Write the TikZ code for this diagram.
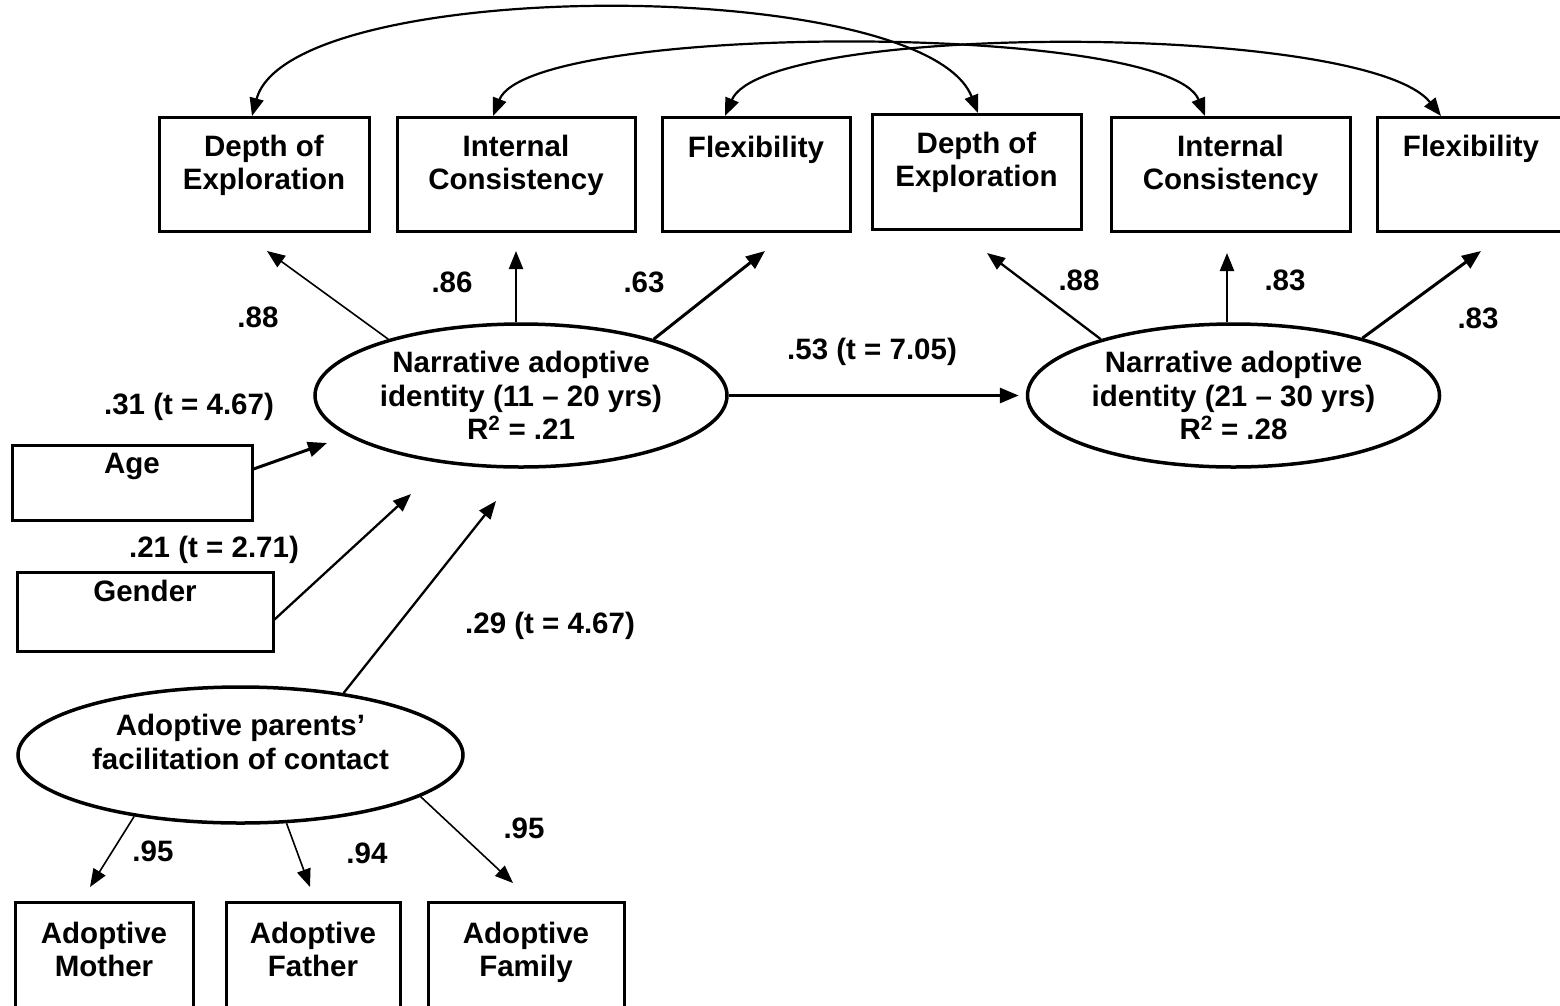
\documentclass[tikz,border=0pt]{standalone}
\usepackage{fontspec}
\setmainfont{Liberation Sans}
\usetikzlibrary{arrows.meta,shapes.geometric}

\tikzset{
  obsbox/.style={draw, line width=3pt, inner sep=0pt, align=center, anchor=north},
  latent/.style={draw, ellipse, line width=3.5pt, inner sep=0pt, align=center, minimum width=412pt, minimum height=143pt},
  coef/.style={inner sep=0pt},
  thinarr/.style={line width=1.6pt, -{Triangle[length=18pt,width=14pt]}},
  midarr/.style={line width=2.3pt, -{Triangle[length=18pt,width=14pt]}},
  thickarr/.style={line width=3pt, -{Triangle[length=19pt,width=15pt]}},
  covarr/.style={line width=2.2pt, {Triangle[length=18pt,width=14pt]}-{Triangle[length=18pt,width=14pt]}}
}

\begin{document}
\begin{tikzpicture}[x=1pt, y=-1pt, font=\fontsize{29.5}{33.5}\selectfont\bfseries]
			\useasboundingbox (0,0) rectangle (1560,1005);
			
			%%%%% indicators, top row %%%%%
			\node[obsbox, minimum width=210pt, text height=72pt, text depth=42pt] (D1) at (264,116) {Depth of\\Exploration};
			\node[obsbox, minimum width=238pt, text height=72pt, text depth=42pt] (I1) at (516,116) {Internal\\Consistency};
			\node[obsbox, minimum width=188pt, text height=40pt, text depth=74pt] (F1) at (756,116) {Flexibility};
			\node[obsbox, minimum width=209pt, text height=72pt, text depth=43pt] (D2) at (976.5,113) {Depth of\\Exploration};
			\node[obsbox, minimum width=239pt, text height=72pt, text depth=42pt] (I2) at (1230.5,116) {Internal\\Consistency};
			\node[obsbox, minimum width=188pt, text height=39pt, text depth=75pt] (F2) at (1471,116) {Flexibility};
			
			%%%%% latent variables %%%%%
			\node[latent] (N1) at (521,395.5) {Narrative adoptive\\identity (11 – 20 yrs)\\R\textsuperscript{2} = .21};
			\node[latent] (N2) at (1233.5,395.5) {Narrative adoptive\\identity (21 – 30 yrs)\\R\textsuperscript{2} = .28};
			\node[latent, minimum width=445pt, minimum height=136pt, text depth=26pt] (AP) at (240.5,755) {Adoptive parents’\\facilitation of contact};
			
			%%%%% predictors %%%%%
			\node[obsbox, minimum width=240pt, text height=28pt, text depth=47pt] (Age) at (132,444) {Age};
			\node[obsbox, minimum width=256pt, text height=29pt, text depth=50pt] (Gen) at (145,571) {Gender};
			
			%%%%% indicators, bottom row %%%%%
			\node[obsbox, minimum width=178pt, text height=74pt, text depth=43pt] (Mo) at (104,901) {Adoptive\\Mother};
			\node[obsbox, minimum width=174pt, text height=74pt, text depth=43pt] (Fa) at (313,901) {Adoptive\\Father};
			\node[obsbox, minimum width=196pt, text height=74pt, text depth=43pt] (Fm) at (526,901) {Adoptive\\Family};
			
			%%%%% arrow tips %%%%%
			\coordinate (tD1) at (267,251);
			\coordinate (tI1) at (516,251);
			\coordinate (tF1) at (765,251);
			\coordinate (tD2) at (987,253);
			\coordinate (tI2) at (1227,253);
			\coordinate (tF2) at (1481,251);
			\coordinate (tAge) at (327,443);
			\coordinate (tGen) at (411,494);
			\coordinate (tAP) at (496,501);
			\coordinate (tMo) at (90,887);
			\coordinate (tFa) at (310,887);
			\coordinate (tFm) at (513,883);
			
			%%%%% loadings %%%%%
			\draw[thinarr] (N1.157.8) -- (tD1);
			\draw[midarr] (tI1 |- N1.north) -- (tI1);
			\draw[thickarr] (N1.23.9) -- (tF1);
			\draw[midarr] (N2.157.1) -- (tD2);
			\draw[midarr] (tI2 |- N2.north) -- (tI2);
			\draw[thickarr] (N2.24.3) -- (tF2);
			\draw[thinarr] (AP.210) -- (tMo);
			\draw[thinarr] (AP.304.9) -- (tFa);
			\draw[thinarr] (AP.347.8) -- (tFm);
			
			%%%%% paths %%%%%
			\draw[thickarr] (N1.east) -- ([xshift=-7pt]N2.west);
			\draw[thickarr] ([yshift=14pt]Age.east) -- (tAge);
			\draw[midarr] ([yshift=-7.5pt]Gen.east) -- (tGen);
			\draw[midarr] (AP.31.4) -- (tAP);
			
			%%%%% correlated errors %%%%%
			\draw[covarr] ([xshift=-12pt]D1.north) .. controls (290,-25) and (924,-25) .. ([xshift=1.5pt]D2.north);
			\draw[covarr] ([xshift=-23pt]I1.north) .. controls (530,22) and (1168,22) .. ([xshift=-25.5pt]I2.north);
			\draw[covarr] ([xshift=-31pt]F1.north) .. controls (765,22) and (1366,22) .. ([xshift=-30pt]F2.north);
			
			%%%%% coefficients %%%%%
			\node[coef] (cD1) at (258,317) {.88};
			\node[coef] (cI1) at (452,282) {.86};
			\node[coef] (cF1) at (644,282) {.63};
			\node[coef] (cN) at (872,352) {.53 (t = 7.05)};
			\node[coef] (cD2) at (1079,280) {.88};
			\node[coef] (cI2) at (1285,280) {.83};
			\node[coef] (cF2) at (1478,318) {.83};
			\node[coef] (cAge) at (189,407) {.31 (t = 4.67)};
			\node[coef] (cGen) at (214,550) {.21 (t = 2.71)};
			\node[coef] (cAP) at (550,626) {.29 (t = 4.67)};
			\node[coef] (cMo) at (153,851) {.95};
			\node[coef] (cFa) at (367,853) {.94};
			\node[coef] (cFm) at (524,828) {.95};
			
		\end{tikzpicture}
\end{document}
